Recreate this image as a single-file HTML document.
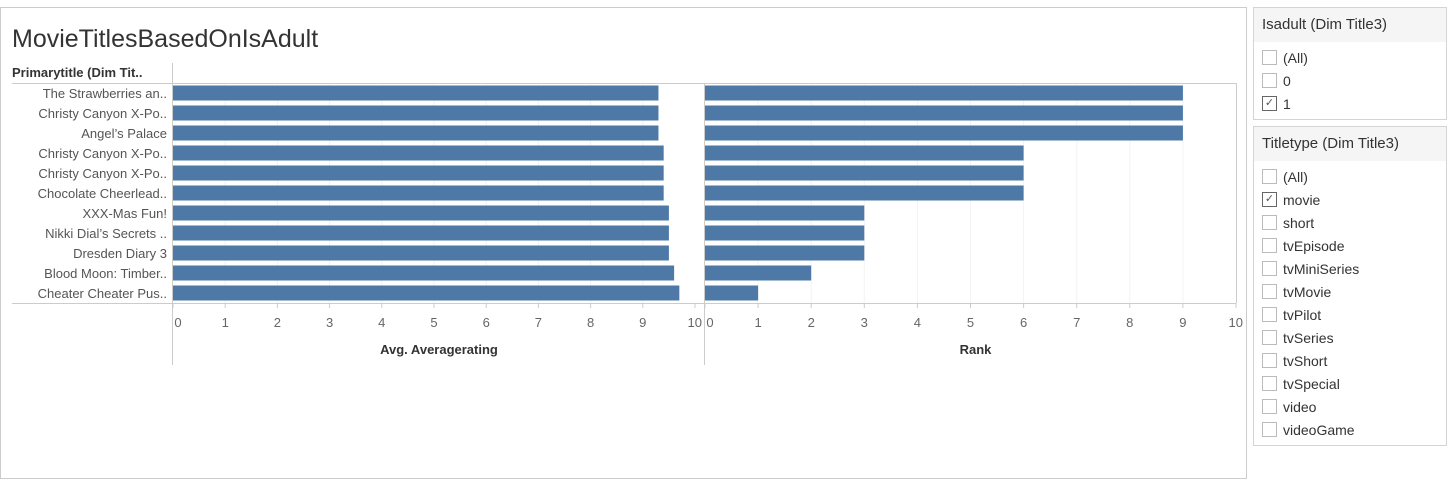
<!DOCTYPE html>
<html><head><meta charset="utf-8"><style>
body{margin:0;width:1453px;height:464px;background:#fff;font-family:"Liberation Sans",sans-serif;position:relative;overflow:hidden}
.panel{position:absolute;border:1px solid #d4d4d4;background:#fff}
.fhead{height:34px;background:#f5f5f5;font-size:15px;color:#333;line-height:34px;padding-left:8px}
.item{height:23px;font-size:14px;color:#333;display:flex;align-items:center;padding-left:8px}
.cb{width:15px;height:15px;border:1px solid #bbb;margin-right:6px;box-sizing:border-box;font-size:11px;line-height:13px;text-align:center;color:#555}
</style></head><body>
<div class="panel" style="left:0;top:7px;width:1245px;height:470px;border-color:#ccc"></div>
<svg id="chart" width="1246" height="464" style="position:absolute;left:0;top:0"></svg>
<div class="panel" style="left:1253px;top:7px;width:192px;height:111px">
<div class="fhead">Isadult (Dim Title3)</div>
<div style="height:4px"></div>
<div class="item"><div class="cb"></div>(All)</div>
<div class="item"><div class="cb"></div>0</div>
<div class="item"><div class="cb" style="border-color:#666">✓</div>1</div>
</div>
<div class="panel" style="left:1253px;top:126px;width:192px;height:318px">
<div class="fhead">Titletype (Dim Title3)</div>
<div style="height:4px"></div>
<div class="item"><div class="cb"></div>(All)</div>
<div class="item"><div class="cb" style="border-color:#666">✓</div>movie</div>
<div class="item"><div class="cb"></div>short</div>
<div class="item"><div class="cb"></div>tvEpisode</div>
<div class="item"><div class="cb"></div>tvMiniSeries</div>
<div class="item"><div class="cb"></div>tvMovie</div>
<div class="item"><div class="cb"></div>tvPilot</div>
<div class="item"><div class="cb"></div>tvSeries</div>
<div class="item"><div class="cb"></div>tvShort</div>
<div class="item"><div class="cb"></div>tvSpecial</div>
<div class="item"><div class="cb"></div>video</div>
<div class="item"><div class="cb"></div>videoGame</div>
</div>
<script>
const categories=["The Strawberries an..","Christy Canyon X-Po..","Angel’s Palace","Christy Canyon X-Po..","Christy Canyon X-Po..","Chocolate Cheerlead..","XXX-Mas Fun!","Nikki Dial’s Secrets ..","Dresden Diary 3","Blood Moon: Timber..","Cheater Cheater Pus.."];
const avgRating=[9.3,9.3,9.3,9.4,9.4,9.4,9.5,9.5,9.5,9.6,9.7];
const rankValues=[9,9,9,6,6,6,3,3,3,2,1];
const tickLabels=[0,1,2,3,4,5,6,7,8,9,10];
const svg=document.getElementById('chart');const NS='http://www.w3.org/2000/svg';
function mk(t,a,txt){const e=document.createElementNS(NS,t);for(const k in a)e.setAttribute(k,a[k]);if(txt!==undefined)e.textContent=txt;svg.appendChild(e);return e;}
let e;
e=mk('text',{x:12,y:47,'font-size':25,fill:'#333'},'MovieTitlesBasedOnIsAdult');


e=mk('text',{x:12,y:77,'font-size':13,'font-weight':'bold',fill:'#333'},'Primarytitle (Dim Tit..');


mk('line',{x1:12,x2:1236,y1:83.5,y2:83.5,stroke:'#ccc'});
mk('line',{x1:12,x2:1236,y1:303.5,y2:303.5,stroke:'#ccc'});
mk('line',{x1:172.5,x2:172.5,y1:63,y2:365,stroke:'#ccc'});
mk('line',{x1:704.5,x2:704.5,y1:83,y2:365,stroke:'#ccc'});
mk('line',{x1:1236.5,x2:1236.5,y1:83,y2:303,stroke:'#ccc'});
const rowY=i=>93+i*20;
const panes=[{x0:173,x1:695,data:avgRating,title:'Avg. Averagerating',name:'avg'},{x0:705,x1:1236,data:rankValues,title:'Rank',name:'rank'}];
categories.forEach((c,i)=>{e=mk('text',{x:167,y:rowY(i)+5,'font-size':13,fill:'#555','text-anchor':'end'},c);

});
panes.forEach(p=>{const sx=v=>p.x0+(p.x1-p.x0)*v/10;
tickLabels.forEach(t=>{const x=sx(t);if(t>0&&t<10)mk('line',{x1:x,x2:x,y1:84,y2:303,stroke:'#f3f3f3'});
mk('line',{x1:x,x2:x,y1:303,y2:308,stroke:'#ccc'});
e=mk('text',{x:t==0?x+5:x,y:327,'font-size':13,fill:'#666','text-anchor':t==10?'end':(t==0?'middle':'middle')},String(t));
if(t==10)e.setAttribute('x',x+7);

});
p.data.forEach((v,i)=>{e=mk('rect',{x:sx(0),y:rowY(i)-7.5,width:sx(v)-sx(0),height:15,fill:'#4e79a7'});

});
e=mk('text',{x:(p.x0+p.x1)/2+5,y:354,'font-size':13,'font-weight':'bold',fill:'#333','text-anchor':'middle'},p.title);

});
</script>
</body></html>
